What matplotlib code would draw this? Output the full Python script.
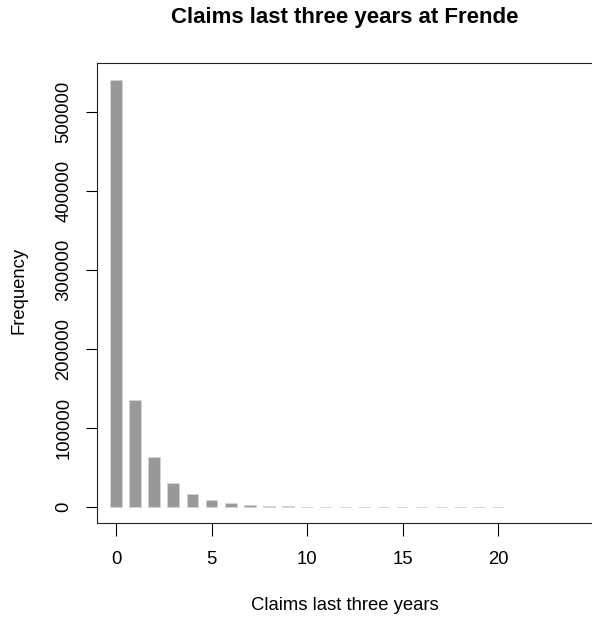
import numpy as np
import matplotlib
matplotlib.use("Agg")
import matplotlib.pyplot as plt

plt.rcParams['font.family'] = ['Liberation Sans', 'DejaVu Sans']

# number of claims last three years and how many customers had that many
claims = [0, 1, 2, 3, 4, 5, 6, 7, 8, 9, 10,
          11, 12, 13, 14, 15, 16, 17, 18, 19, 20]
frequency = [540000, 135500, 63000, 31000, 16000, 8500, 4700, 2600, 1500, 900, 550,
             350, 220, 140, 90, 60, 40, 25, 15, 10, 6]

x_ticks = [0, 5, 10, 15, 20]
y_ticks = [0, 100000, 200000, 300000, 400000, 500000]

W, H = 592, 619
fig = plt.figure(figsize=(W / 100, H / 100), dpi=100)

# plot region in pixels: left 97, top 63, bottom 523; right side runs off the image
ax = fig.add_axes([97 / W, (H - 523) / H, (597 - 97) / W, (523 - 63) / H])

ax.bar(claims, frequency, width=0.62, color='#999999',
       edgecolor='#d4d4d4', linewidth=0.7)

ax.set_xlim(-1, (597 - 116) / 19.1)
ax.set_ylim(-20250, 562000)

ax.set_xticks(x_ticks)
ax.set_xticklabels([str(v) for v in x_ticks])
ax.set_yticks(y_ticks)
ax.set_yticklabels([str(v) for v in y_ticks], rotation=90, va='center')

ax.tick_params(axis='x', length=9.5, width=0.8, pad=11, labelsize=13.3)
ax.tick_params(axis='y', length=7.7, width=0.8, pad=10, labelsize=13.3)

for sp in ax.spines.values():
    sp.set_linewidth(0.8)
    sp.set_color('#222222')

fig.text(345 / W, 1 - 18 / H, 'Claims last three years at Frende',
         ha='center', va='center', fontsize=16, fontweight='bold')
fig.text(345 / W, 1 - 605 / H, 'Claims last three years',
         ha='center', va='center', fontsize=13.3)
fig.text(19 / W, 1 - 290 / H, 'Frequency', rotation=90,
         ha='center', va='center', fontsize=13.3)

fig.savefig('out.png', dpi=100)
